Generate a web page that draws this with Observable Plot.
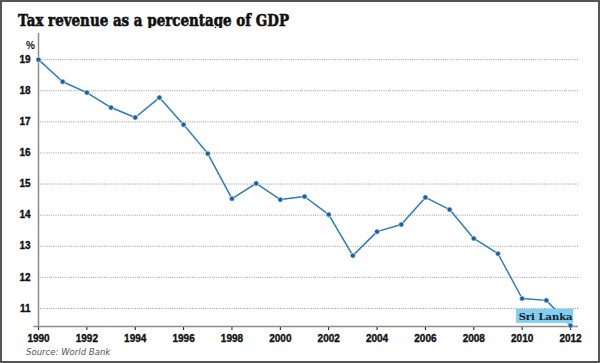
<!DOCTYPE html>
<html>
<head>
<meta charset="utf-8">
<script src="https://cdn.jsdelivr.net/npm/d3@7"></script>
<script src="https://cdn.jsdelivr.net/npm/@observablehq/plot@0.6"></script>
<style>
  html, body { margin: 0; padding: 0; background: #fff; }
  #frame { position: relative; width: 600px; height: 363px; box-sizing: border-box; border: 2px solid #555; background: #fff; overflow: hidden; }
  #title { position: absolute; left: 16px; top: 11px; font-family: "DejaVu Serif", serif; font-weight: bold; font-size: 16px; line-height: 16px; color: #111; white-space: nowrap; transform-origin: left center; display: inline-block; -webkit-text-stroke: 0.6px #111; }
  #chart { position: absolute; left: 0; top: 26px; }
  #chart g[aria-label$="tick label"] text { stroke: #111; stroke-width: 0.35px; }
  #source { position: absolute; left: 24px; top: 345px; font-family: "Liberation Sans Narrow", "DejaVu Sans Condensed", sans-serif; font-style: italic; font-size: 9.5px; line-height: 10px; color: #555; white-space: nowrap; }
</style>
</head>
<body>
<div id="frame">
  <div id="title">Tax revenue as a percentage of GDP</div>
  <div id="chart"></div>
  <div id="source">Source: World Bank</div>
</div>
<script>
const years = [1990, 1991, 1992, 1993, 1994, 1995, 1996, 1997, 1998, 1999, 2000, 2001, 2002, 2003, 2004, 2005, 2006, 2007, 2008, 2009, 2010, 2011, 2012];
const values = [19.0, 18.29, 17.94, 17.46, 17.14, 17.78, 16.91, 15.98, 14.53, 15.02, 14.5, 14.6, 14.02, 12.7, 13.47, 13.7, 14.57, 14.18, 13.25, 12.76, 11.32, 11.26, 10.45];
const yTicks = [11, 12, 13, 14, 15, 16, 17, 18, 19];
const xTicks = [1990, 1992, 1994, 1996, 1998, 2000, 2002, 2004, 2006, 2008, 2010, 2012];
const seriesName = "Sri Lanka";
const unitLabel = "%";

const data = years.map((year, i) => ({year, value: values[i]}));
const last = data[data.length - 1];
const yMin = 10.42, yMax = 19.84;
const xMax = 2012.33;

const chart = Plot.plot({
  width: 596,
  height: 318,
  marginLeft: 36,
  marginRight: 20,
  marginTop: 5,
  marginBottom: 20,
  style: {fontFamily: "'Liberation Sans', Arial, sans-serif", fontSize: "10px", fontWeight: "bold", color: "#111", background: "white", overflow: "visible"},
  x: {domain: [1990, xMax], ticks: xTicks, tickFormat: d => String(d), tickSize: 4, tickPadding: 4, label: null},
  y: {domain: [yMin, yMax], ticks: yTicks, tickSize: 0, tickPadding: 8, label: null},
  marks: [
    Plot.ruleY(yTicks, {stroke: "#9a9a9a", strokeDasharray: "1,1.2", strokeWidth: 1}),
    Plot.ruleX([1990], {stroke: "#8c8c8c", strokeWidth: 1.5}),
    Plot.ruleY([yMin], {x1: 1989.8, x2: xMax, stroke: "#8c8c8c", strokeWidth: 1.5}),
    Plot.line(data, {x: "year", y: "value", stroke: "#2b7bbd", strokeWidth: 1.5}),
    Plot.rect([last], {x1: d => d.year - 2.23, x2: d => d.year + 0.13, y1: d => d.value + 0.07, y2: d => d.value + 0.52, fill: "#80cff0"}),
    Plot.text([last], {x: d => d.year - 1.03, y: d => d.value + 0.29, text: () => seriesName, fontFamily: "'DejaVu Serif', serif", fontWeight: "bold", fontSize: 10, fill: "#1a1a2a"}),
    Plot.dot(data, {x: "year", y: "value", r: 2.6, fill: "#1c62a3", stroke: "white", strokeWidth: 0.6}),
    Plot.text([unitLabel], {frameAnchor: "top-left", dx: -12.5, dy: 8.5, text: d => d, fontSize: 10, fontWeight: "bold", fill: "#111"})
  ]
});
document.getElementById("chart").appendChild(chart);

const t = document.getElementById("title");
const w = t.getBoundingClientRect().width;
t.style.transform = `scaleX(${271 / w})`;
</script>
</body>
</html>
